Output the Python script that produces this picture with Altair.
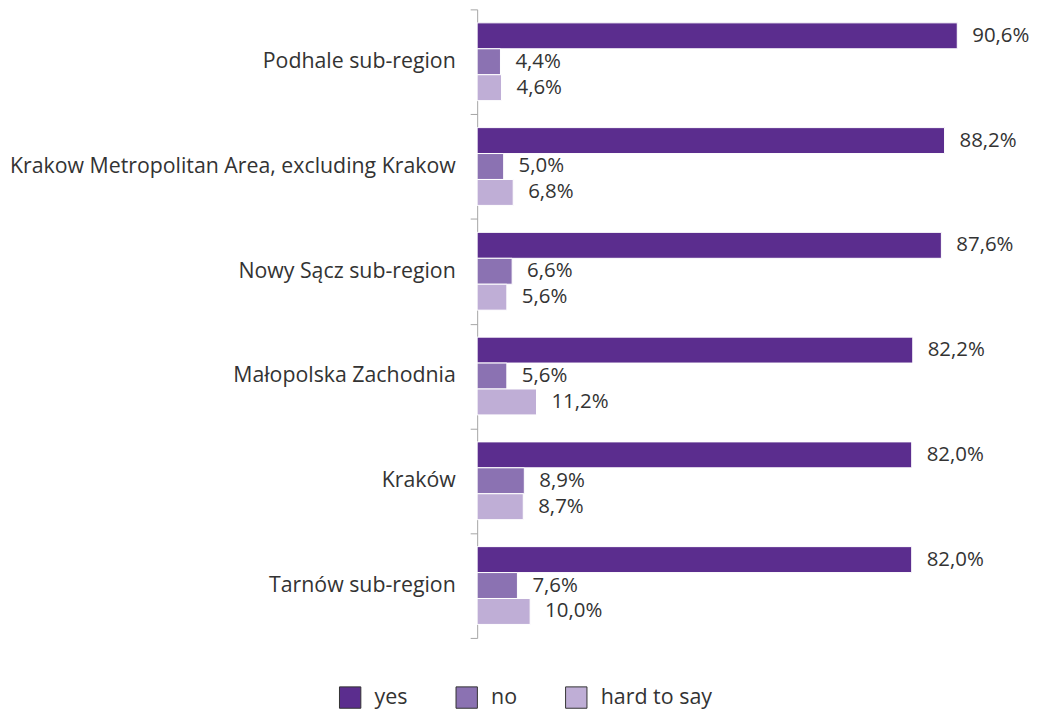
import altair as alt
import pandas as pd

regions = [
    "Podhale sub-region",
    "Krakow Metropolitan Area, excluding Krakow",
    "Nowy Sącz sub-region",
    "Małopolska Zachodnia",
    "Kraków",
    "Tarnów sub-region",
]
series = ["yes", "no", "hard to say"]
yes_vals = [90.6, 88.2, 87.6, 82.2, 82.0, 82.0]
no_vals = [4.4, 5.0, 6.6, 5.6, 8.9, 7.6]
hard_vals = [4.6, 6.8, 5.6, 11.2, 8.7, 10.0]
colors = ["#5B2D8E", "#8B72B2", "#BFAED6"]

rows = []
for i, r in enumerate(regions):
    for s, vals in zip(series, [yes_vals, no_vals, hard_vals]):
        rows.append({"region": r, "answer": s, "value": vals[i]})
df = pd.DataFrame(rows)

font = "Open Sans"

base = alt.Chart(df).encode(
    y=alt.Y(
        "region:N",
        sort=regions,
        scale=alt.Scale(paddingInner=0, paddingOuter=0),
        axis=alt.Axis(
            title=None,
            tickBand="extent",
            domainColor="#a6a6a6",
            tickColor="#a6a6a6",
            tickSize=7,
            labelPadding=15,
            labelFontSize=21.4,
            labelFont=font,
            labelColor="#333333",
            labelLimit=600,
        ),
    ),
    yOffset=alt.YOffset(
        "answer:N",
        sort=series,
        scale=alt.Scale(paddingInner=0, paddingOuter=0.52),
    ),
    x=alt.X(
        "value:Q",
        scale=alt.Scale(domain=[0, 100]),
        axis=None,
    ),
)

bars = base.mark_bar(stroke="white", strokeWidth=1).encode(
    color=alt.Color(
        "answer:N",
        sort=series,
        scale=alt.Scale(domain=series, range=colors),
        legend=alt.Legend(
            title=None,
            orient="none",
            direction="horizontal",
            legendX=-139,
            legendY=679,
            symbolType="square",
            symbolSize=460,
            symbolStrokeColor="#333333",
            symbolStrokeWidth=1,
            labelFontSize=21.5,
            labelFont=font,
            labelColor="#333333",
            columnPadding=45,
            labelOffset=13,
        ),
    )
)

labels = base.transform_calculate(
    lbl="replace(format(datum.value, '.1f'), '.', ',') + '%'"
).mark_text(
    align="left", baseline="middle", dx=15, fontSize=20.5, font=font, color="#333333"
).encode(text="lbl:N")

chart = (
    (bars + labels)
    .properties(
        width=532,
        height=631,
        autosize=alt.AutoSizeParams(type="none"),
        padding={"left": 471, "top": 0, "right": 22, "bottom": 73},
    )
    .configure_view(stroke=None)
)

chart.save("out.html", embed_options={"renderer": "svg", "actions": False})
